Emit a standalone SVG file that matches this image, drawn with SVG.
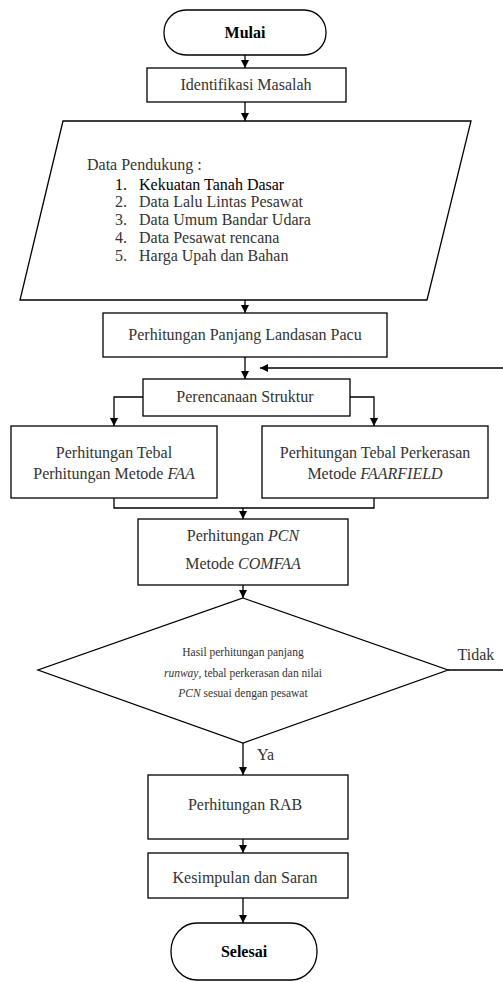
<svg xmlns="http://www.w3.org/2000/svg" width="503" height="982" viewBox="0 0 503 982">
<style>
.s{fill:#fff;stroke:#000;stroke-width:1.3}
.t{font-family:"Liberation Serif","Times New Roman",serif;font-size:16px;fill:#333;text-anchor:middle}
.l{text-anchor:start}
.b{font-weight:bold;fill:#000}
.sm{font-size:11.5px}
.i{font-style:italic}
.c{fill:none;stroke:#000;stroke-width:1.3}
</style>
<defs>
<marker id="a" viewBox="0 0 10 10" refX="10" refY="5" markerWidth="8" markerHeight="8" markerUnits="userSpaceOnUse" orient="auto">
<path d="M0,0 L10,5 L0,10 z" fill="#000"/>
</marker>
</defs>
<rect width="503" height="982" fill="#fff"/>
<g id="connectors">
<line class="c" x1="245" y1="55" x2="245" y2="68" marker-end="url(#a)"/>
<line class="c" x1="245" y1="102" x2="245" y2="121" marker-end="url(#a)"/>
<line class="c" x1="245" y1="300" x2="245" y2="313" marker-end="url(#a)"/>
<line class="c" x1="245" y1="357" x2="245" y2="379" marker-end="url(#a)"/>
<line class="c" x1="503" y1="368" x2="260" y2="368" marker-end="url(#a)"/>
<polyline class="c" points="143,397 114,397 114,426" marker-end="url(#a)"/>
<polyline class="c" points="350,397 374,397 374,426" marker-end="url(#a)"/>
<polyline class="c" points="114,498 114,508 374,508 374,498"/>
<line class="c" x1="243" y1="508" x2="243" y2="519" marker-end="url(#a)"/>
<line class="c" x1="243" y1="585" x2="243" y2="598" marker-end="url(#a)"/>
<line class="c" x1="448" y1="670" x2="503" y2="670"/>
<line class="c" x1="243" y1="743" x2="243" y2="775" marker-end="url(#a)"/>
<line class="c" x1="243" y1="839" x2="243" y2="853" marker-end="url(#a)"/>
<line class="c" x1="243" y1="898" x2="243" y2="923" marker-end="url(#a)"/>
<text class="t" x="476" y="660">Tidak</text>
<text class="t l" x="257" y="760">Ya</text>
</g>
<g id="mulai">
<rect class="s" x="164" y="10" width="162" height="45" rx="22" ry="22"/>
<text class="t b" x="245" y="38">Mulai</text>
</g>
<g id="identifikasi">
<rect class="s" x="147" y="68" width="199" height="34"/>
<text class="t" x="246" y="90">Identifikasi Masalah</text>
</g>
<g id="data">
<polygon class="s" points="63,121 471,121 427,300 20,300"/>
<text class="t l" x="87" y="170">Data Pendukung :</text>
<text class="t l" x="115" y="190" style="fill:#000">1.</text><text class="t l" x="139" y="190" style="fill:#000">Kekuatan Tanah Dasar</text>
<text class="t l" x="115" y="207">2.</text><text class="t l" x="139" y="207">Data Lalu Lintas Pesawat</text>
<text class="t l" x="115" y="225">3.</text><text class="t l" x="139" y="225">Data Umum Bandar Udara</text>
<text class="t l" x="115" y="243">4.</text><text class="t l" x="139" y="243">Data Pesawat rencana</text>
<text class="t l" x="115" y="261">5.</text><text class="t l" x="139" y="261">Harga Upah dan Bahan</text>
</g>
<g id="panjang">
<rect class="s" x="103" y="313" width="284" height="44"/>
<text class="t" x="245" y="340">Perhitungan Panjang Landasan Pacu</text>
</g>
<g id="perencanaan">
<rect class="s" x="143" y="379" width="207" height="37"/>
<text class="t" x="245" y="402">Perencanaan Struktur</text>
</g>
<g id="faa">
<rect class="s" x="11" y="426" width="206" height="72"/>
<text class="t" x="114" y="458">Perhitungan Tebal</text>
<text class="t" x="114" y="479">Perhitungan Metode <tspan class="i">FAA</tspan></text>
</g>
<g id="faarfield">
<rect class="s" x="262" y="426" width="226" height="72"/>
<text class="t" x="375" y="458">Perhitungan Tebal Perkerasan</text>
<text class="t" x="375" y="479">Metode <tspan class="i">FAARFIELD</tspan></text>
</g>
<g id="pcn">
<rect class="s" x="138" y="519" width="210" height="66"/>
<text class="t" x="243" y="541">Perhitungan <tspan class="i">PCN</tspan></text>
<text class="t" x="243" y="569">Metode <tspan class="i">COMFAA</tspan></text>
</g>
<g id="keputusan">
<polygon class="s" points="243,598 448,670 243,743 38,670"/>
<text class="t sm" x="243" y="656">Hasil perhitungan panjang</text>
<text class="t sm" x="243" y="677"><tspan class="i">runway</tspan>, tebal perkerasan dan nilai</text>
<text class="t sm" x="243" y="697"><tspan class="i">PCN</tspan> sesuai dengan pesawat</text>
</g>
<g id="rab">
<rect class="s" x="148" y="775" width="200" height="64"/>
<text class="t" x="245" y="810">Perhitungan RAB</text>
</g>
<g id="kesimpulan">
<rect class="s" x="148" y="853" width="200" height="45"/>
<text class="t" x="245" y="883">Kesimpulan dan Saran</text>
</g>
<g id="selesai">
<rect class="s" x="171" y="923" width="146" height="57" rx="26" ry="28"/>
<text class="t b" x="244" y="957">Selesai</text>
</g>
</svg>
